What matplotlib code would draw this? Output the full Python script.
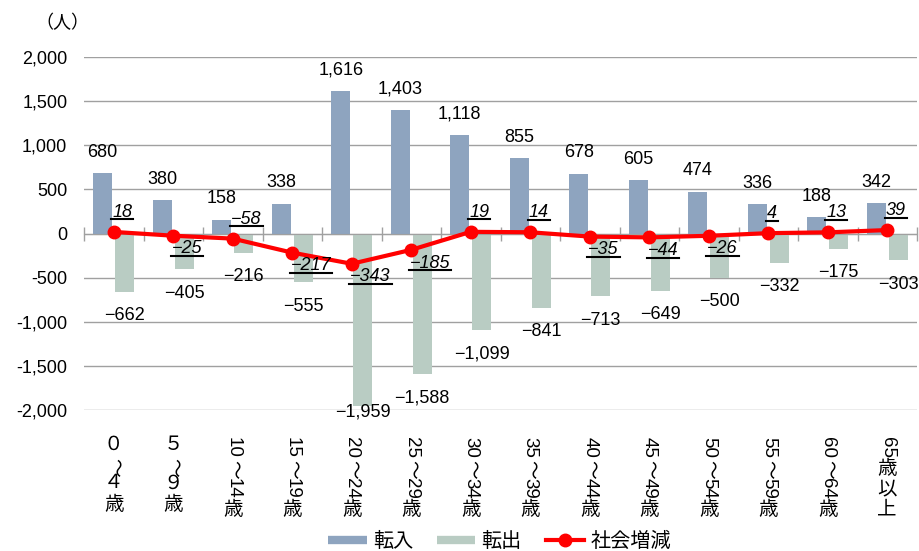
import re
import numpy as np
import matplotlib
matplotlib.use('Agg')
import matplotlib.pyplot as plt
from matplotlib.lines import Line2D
from matplotlib.ticker import FuncFormatter
from matplotlib.transforms import ScaledTranslation

plt.rcParams['font.family'] = ['Liberation Sans', 'Noto Sans CJK JP']

#Data
ageGroups = ['０～４歳', '５～９歳', '10～14歳', '15～19歳', '20～24歳', '25～29歳', '30～34歳',
             '35～39歳', '40～44歳', '45～49歳', '50～54歳', '55～59歳', '60～64歳', '65歳以上']
moveIn = [680, 380, 158, 338, 1616, 1403, 1118, 855, 678, 605, 474, 336, 188, 342]
moveOut = [-662, -405, -216, -555, -1959, -1588, -1099, -841, -713, -649, -500, -332, -175, -303]
netChange = [18, -25, -58, -217, -343, -185, 19, 14, -35, -44, -26, 4, 13, 39]
seriesNames = ['転入', '転出', '社会増減']
unitLabel = '（人）'
yTicks = [-2000, -1500, -1000, -500, 0, 500, 1000, 1500, 2000]

#Style
blue = '#8EA4BF'
green = '#B9CCC3'
red = '#FF0000'
gridGray = '#A0A0A0'
barWidth = 0.32
barShift = 0.185
netLabelSide = ['up', 'down', 'up', 'down', 'down', 'down', 'up',
                'up', 'down', 'down', 'down', 'up', 'up', 'up']


def fmtNum(v):
    s = '{:,}'.format(abs(v))
    return '−' + s if v < 0 else s


fig = plt.figure(figsize=(9.2, 5.51), dpi=100)
ax = fig.add_axes([84 / 920, 141 / 551, 833 / 920, 353 / 551])

x = np.arange(len(ageGroups))
ax.bar(x - barShift, moveIn, width=barWidth, color=blue, zorder=2)
ax.bar(x + barShift, moveOut, width=barWidth, color=green, zorder=2)
ax.plot(x, netChange, color=red, lw=3, marker='o', ms=9, zorder=4)

ax.set_xlim(-0.5, len(ageGroups) - 0.5)
ax.set_ylim(yTicks[0], yTicks[-1])
ax.set_yticks(yTicks)
ax.yaxis.set_major_formatter(FuncFormatter(lambda v, p: '{:,}'.format(int(v))))
ax.yaxis.grid(True, color=gridGray, lw=1)
ax.set_axisbelow(True)
ax.tick_params(axis='y', length=0, pad=12, labelsize=13)

for s in ['left', 'right', 'top']:
    ax.spines[s].set_visible(False)
ax.spines['bottom'].set_position(('data', 0))
ax.spines['bottom'].set_color(gridGray)
ax.spines['bottom'].set_zorder(3)
ax.set_xticks(np.arange(len(ageGroups) + 1) - 0.5)
ax.set_xticklabels([])
ax.tick_params(axis='x', direction='inout', length=9.5, width=1, color=gridGray)

#Data labels
unitPerPx = (yTicks[-1] - yTicks[0]) / 353.0
for i, v in enumerate(moveIn):
    ax.annotate(fmtNum(v), (i - barShift, v), xytext=(0, 15), textcoords='offset points',
                ha='center', va='center', fontsize=13)
for i, v in enumerate(moveOut):
    yl = max(v - 24 * unitPerPx, yTicks[0] - 2 * unitPerPx)
    ax.text(i + barShift, yl, fmtNum(v), ha='center', va='center', fontsize=13)

netTexts = []
for i, v in enumerate(netChange):
    dy = 14 if netLabelSide[i] == 'up' else -9.5
    t = ax.annotate(fmtNum(v), (i, v), xytext=(-1, dy), textcoords='offset points',
                    ha='left', va='center', fontsize=13, fontstyle='italic', zorder=5)
    netTexts.append(t)

#Vertical category labels: half-width runs turned, full-width chars upright
for i, lab in enumerate(ageGroups):
    cursor = 19.5
    for tok in re.findall(r'[0-9]+|～|.', lab):
        if tok.isascii():
            rot, step, fs = 270, 7.6 * len(tok) + 1.5, 13.5
        elif tok == '～':
            rot, step, fs = 270, 12.5, 13.5
        else:
            rot, step, fs = 0, 15, 14
        tr = ax.get_xaxis_transform() + ScaledTranslation(0, -cursor / 72, fig.dpi_scale_trans)
        ax.text(i, 0, tok, transform=tr, ha='center', va='top', rotation=rot, fontsize=fs)
        cursor += step

fig.text(62 / 920, 1 - 23 / 551, unitLabel, ha='center', va='center', fontsize=13)

handles = [Line2D([], [], color=blue, lw=6, solid_capstyle='butt'),
           Line2D([], [], color=green, lw=6, solid_capstyle='butt'),
           Line2D([], [], color=red, lw=3, marker='o', ms=9)]
fig.legend(handles, seriesNames, loc='center', bbox_to_anchor=(0.543, 0.017), ncol=3,
           frameon=False, fontsize=14.5, handlelength=1.9, handletextpad=0.3,
           columnspacing=1.2)

#Underlines for net labels
fig.canvas.draw()
renderer = fig.canvas.get_renderer()
inv = fig.transFigure.inverted()
for t in netTexts:
    bb = t.get_window_extent(renderer=renderer)
    (x0, y0), (x1, _) = inv.transform([(bb.x0 - 1, bb.y0 + 1.5), (bb.x1 + 1, bb.y0 + 1.5)])
    fig.add_artist(Line2D([x0, x1], [y0, y0], color='black', lw=1.5, transform=fig.transFigure))

fig.savefig('out.png', dpi=100)
